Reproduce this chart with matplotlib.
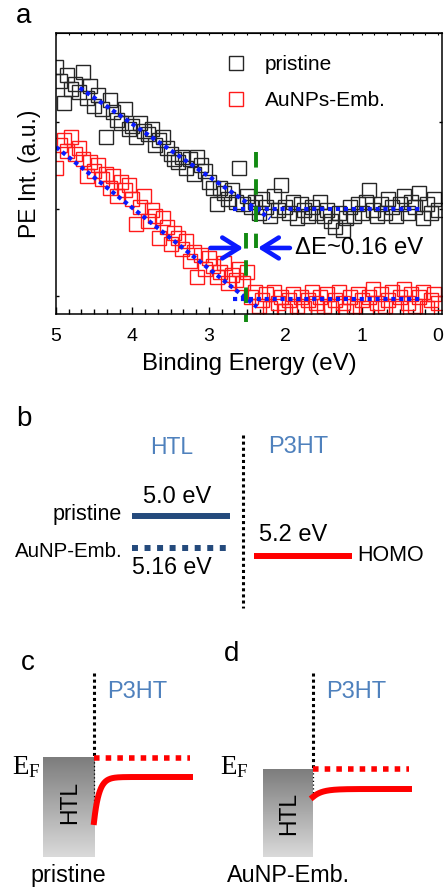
import numpy as np
import matplotlib
matplotlib.use('Agg')
from matplotlib import pyplot as plt
from matplotlib.colors import LinearSegmentedColormap

plt.rcParams['font.family'] = ['Liberation Sans', 'DejaVu Sans']

# --- panel a: UPS valence band edge ---
energy = np.round(np.arange(5.0, -0.001, -0.05), 2)   # binding energy (eV)
pristine = [88, 83, 75, 85, 80, 82, 79, 86, 77, 81,
            74, 78, 73, 63, 76, 72, 69, 68, 73, 66,
            67, 63, 68, 65, 64, 66, 60, 62, 63, 59,
            57, 55, 54, 56, 52, 55, 50, 56, 53, 51,
            47, 45, 39, 45, 43, 41, 44, 40, 52, 39,
            42, 38, 40, 36, 41, 38, 35, 42, 37, 46,
            38, 36, 40, 34, 39, 37, 35, 38, 36, 40,
            35, 37, 33, 31, 36, 30, 34, 38, 35, 39,
            36, 40, 44, 37, 35, 39, 36, 41, 38, 35,
            39, 42, 36, 40, 38, 43, 34, 39, 36, 41,
            37]
aunps = [52, 60, 62, 58, 63, 57, 59, 55, 49, 54,
         51, 53, 48, 50, 45, 49, 42, 47, 44, 46,
         41, 32, 38, 42, 33, 37, 35, 27, 34, 31,
         25, 29, 27, 23, 26, 19, 22, 13, 21, 16,
         20, 17, 13, 15, 18, 11, 14, 12, 16, 11,
         15, 6, 8, 3, 5, 7, 2, 8, 4, 6,
         1, 5, 7, 3, 6, 2, 5, 8, 4, 6,
         3, 7, 2, 5, 8, 4, 1, 6, 3, 7,
         5, 2, 6, 9, 4, 7, 3, 5, 8, 2,
         6, 9, 4, 7, 3, 6, 8, 2, 5, 7,
         4]

# linear fits of the edge and of the background
pris_fit_e, pris_fit_i = [4.69, 2.2], [80.5, 34.0]
pris_base_e, pris_base_i = [2.68, 0.2], [37.4, 37.4]
emb_fit_e, emb_fit_i = [5.0, 2.37], [59.4, 2.5]
emb_base_e, emb_base_i = [2.68, 0.2], [5.2, 5.2]
onset_pris, onset_emb = 2.38, 2.52

# --- panel b: energy levels (eV) ---
htl_levels = [5.0, 5.16]
htl_names = ['pristine', 'AuNP-Emb.']
p3ht_homo = 5.2

BLUE_TXT = '#4f81bd'
NAVY = '#244a7c'

fig = plt.figure(figsize=(4.44, 8.88), dpi=100)

# overlay in pixel coordinates for labels and schematics
ov = fig.add_axes([0, 0, 1, 1])

ax = fig.add_axes([56 / 444, 1 - 314 / 888, 386 / 444, 281 / 888])
ax.plot(energy, pristine, 's', mfc='none', mec='#262626', mew=1.0, ms=9.5, label='pristine')
ax.plot(energy, aunps, 's', mfc='none', mec='#ff1a1a', mew=1.0, ms=9.5, label='AuNPs-Emb.')
for e, i in [(pris_fit_e, pris_fit_i), (pris_base_e, pris_base_i),
             (emb_fit_e, emb_fit_i), (emb_base_e, emb_base_i)]:
    ax.plot(e, i, color='#0a1aff', lw=3.0, dashes=(1, 0.9))

ax.plot([onset_pris, onset_pris], [57.7, 23.5], color='#128a12', lw=2.8, dashes=(4, 3))
ax.plot([onset_emb, onset_emb], [28.8, -2.8], color='#128a12', lw=2.8, dashes=(4, 3),
        clip_on=False)
arr = dict(arrowstyle='->,head_length=0.4,head_width=0.25', color='#0a1aff', lw=3.3,
           mutation_scale=30, shrinkA=0, shrinkB=0)
ax.annotate('', xy=(2.55, 23.5), xytext=(2.98, 23.5), arrowprops=arr)
ax.annotate('', xy=(2.36, 23.5), xytext=(1.94, 23.5), arrowprops=arr)
ax.text(1.87, 23.5, '\u0394E~0.16 eV', fontsize=17.2, va='center', ha='left')

ax.set_xlim(5, -0.05)
ax.set_ylim(0, 100)
ax.set_xticks([5, 4, 3, 2, 1, 0])
ax.set_xticklabels(['5', '4', '3', '2', '1', '0'])
ax.set_xticks(np.linspace(0, 5, 31), minor=True)
ax.tick_params(axis='x', which='major', direction='in', length=5, width=1, labelsize=14, pad=10)
ax.tick_params(axis='x', which='minor', direction='in', length=3.5, width=1)
ax.set_yticks([6.4, 37.4, 68.3])
ax.set_yticklabels([])
ax.tick_params(axis='y', direction='in', length=2.5, width=1, left=True, right=True)
top = ax.secondary_xaxis('top')
top.set_xticks(np.linspace(0, 5, 31))
top.set_xticklabels([])
top.tick_params(direction='in', length=1.5, width=0.8)
for s in ax.spines.values():
    s.set_linewidth(1.1)
ax.set_xlabel('Binding Energy (eV)', fontsize=17.3, labelpad=6)
ax.set_ylabel('PE Int. (a.u.)', fontsize=16.5, labelpad=7)
ax.legend(loc='upper left', bbox_to_anchor=(0.439, 0.92), frameon=False, fontsize=15,
          handlelength=1.0, handletextpad=0.9, borderpad=0, borderaxespad=0,
          labelspacing=0.8, numpoints=1)

# --- panel b ---
axb = fig.add_axes([0, 1 - 620 / 888, 1, 220 / 888])
axb.set_xlim(0, 444)
axb.set_ylim(5.0 + 103.5 / 195, 5.0 - 116.5 / 195)
axb.axis('off')
axb.text(172, 4.644, 'HTL', color=BLUE_TXT, fontsize=16.5, ha='center', va='center')
axb.text(298, 4.644, 'P3HT', color=BLUE_TXT, fontsize=17, ha='center', va='center')
axb.plot([243, 243], [4.582, 5.469], color='black', lw=2.2, dashes=(1, 1))
axb.plot([132, 230], [htl_levels[0]] * 2, color=NAVY, lw=4.3, solid_capstyle='butt')
axb.plot([132, 230], [htl_levels[1]] * 2, color=NAVY, lw=4.3, dashes=(1, 1.1))
axb.plot([254, 352], [p3ht_homo] * 2, color='#ff0000', lw=4.3, solid_capstyle='butt')
axb.text(122, htl_levels[0] - 0.01, htl_names[0], fontsize=15.5, ha='right', va='center')
axb.text(123, htl_levels[1] + 0.02, htl_names[1], fontsize=14.8, ha='right', va='center')
axb.text(177, htl_levels[0] - 0.1, '%.1f eV' % htl_levels[0], fontsize=17, ha='center', va='center')
axb.text(172, htl_levels[1] + 0.104, '%.2f eV' % htl_levels[1], fontsize=16.7, ha='center', va='center')
axb.text(293, p3ht_homo - 0.105, '%.1f eV' % p3ht_homo, fontsize=17, ha='center', va='center')
axb.text(357, p3ht_homo, 'HOMO', fontsize=15.5, ha='left', va='center')

# --- panels c, d: band bending schematics ---
gray = LinearSegmentedColormap.from_list('g', ['#7d7d7d', '#dadada'])
grad = np.linspace(0, 1, 200).reshape(-1, 1)
panels = [
    # HTL box x0, x1, box top (=E_F), box bottom, flat HOMO, bend start, decay, label, E_F right
    (43, 94, 758, 857, 777, 822, 5.0, 'pristine', 41),
    (263, 313, 769, 857, 789, 797, 9.0, 'AuNP-Emb.', 249),
]
for bx0, bx1, ef, bb, flat, start, k, name, efx in panels:
    ov.imshow(grad, extent=[bx0, bx1, bb, ef], cmap=gray, aspect='auto', zorder=1)
    ov.text((bx0 + bx1) / 2 + 1, ef + 44, 'HTL', rotation=90, fontsize=16.5,
            ha='center', va='center', zorder=3)
    ov.plot([bx1, bx1], [673, ef], color='black', lw=2.2, dashes=(1, 1), zorder=2)
    ov.plot([bx1, bx1], [ef, start - 4], color='black', lw=0.9, dashes=(1, 2), zorder=2)
    ov.plot([bx1, bx1 + 96], [ef, ef], color='#ff0000', lw=4, dashes=(1, 1.1), zorder=3)
    xs = np.linspace(bx1, bx1 + 96, 200)
    ov.plot(xs, flat + (start - flat) * np.exp(-(xs - bx1) / k), color='#ff0000', lw=4.3,
            zorder=3)
    ov.text(bx1 + 13, 692, 'P3HT', color=BLUE_TXT, fontsize=17, ha='left', va='center')
    ov.text(efx, 767, r'$\mathregular{E_F}$', fontsize=19.5, family='Liberation Serif',
            ha='right', va='center')
    ov.text((bx0 + bx1) / 2, 875, name, fontsize=16.8, ha='center', va='center')

for lbl, x, y in [('a', 24, 16), ('b', 24, 419), ('c', 28, 663), ('d', 232, 654)]:
    ov.text(x, y, lbl, fontsize=20, ha='center', va='center')

ov.set_xlim(0, 444)
ov.set_ylim(888, 0)
ov.axis('off')

fig.savefig('out.png', dpi=100)
